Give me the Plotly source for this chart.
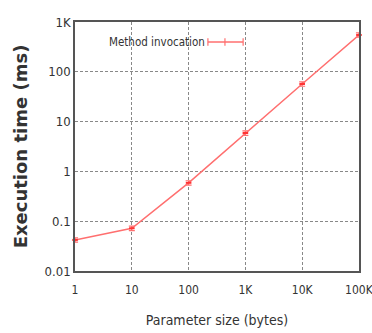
import plotly.graph_objects as go

sizes = [1, 10, 100, 1000, 10000, 100000]
times = [0.042, 0.072, 0.59, 5.9, 57, 550]
series_name = "Method invocation"
x_ticks = ["1", "10", "100", "1K", "10K", "100K"]
y_tickvals = [0.01, 0.1, 1, 10, 100, 1000]
y_ticks = ["0.01", "0.1", "1", "10", "100", "1K"]

narrow = "DejaVu Sans Condensed, Liberation Sans Narrow, sans-serif"
red = "#ff6f6f"

fig = go.Figure()
fig.add_trace(go.Scatter(
    x=sizes, y=times, mode="lines+markers", name=series_name,
    line=dict(color=red, width=1.5),
    marker=dict(color="#ff3333", size=4, symbol="line-ew", line=dict(color="#ff3333", width=2)),
    error_y=dict(type="percent", value=10, color=red, thickness=1.2, width=3),
    showlegend=False, cliponaxis=False,
))

grid = dict(showgrid=True, gridcolor="#888888", griddash="3px,2px", gridwidth=1,
            showline=True, linecolor="#555555", linewidth=1.5, mirror=True,
            ticks="", zeroline=False, automargin=False, ticklabeloverflow="allow")

fig.update_xaxes(type="log", range=[-0.001, 5.001], tickvals=sizes, ticktext=x_ticks,
                 tickfont=dict(family=narrow, size=12, color="#333"), ticklabelstandoff=7,
                 title=dict(text="Parameter size (bytes)", font=dict(family=narrow, size=14, color="#333"), standoff=19),
                 **grid)
fig.update_yaxes(type="log", range=[-2.001, 3.001], tickvals=y_tickvals, ticktext=y_ticks,
                 tickfont=dict(family=narrow, size=13, color="#333"),
                 title=dict(text="Execution time (ms)", font=dict(family="DejaVu Sans, sans-serif", size=18, color="#333", weight="bold"), standoff=12),
                 **grid)

fig.add_annotation(xref="paper", yref="paper", x=0.113, y=0.92, xanchor="left", yanchor="middle",
                   text=series_name, showarrow=False,
                   font=dict(family=narrow, size=11.5, color="#333"))
# legend sample line
fig.add_shape(type="line", xref="paper", yref="paper", x0=0.468, x1=0.592, y0=0.92, y1=0.92,
              line=dict(color=red, width=1.5))
for xp in (0.468, 0.528, 0.592):
    fig.add_shape(type="line", xref="paper", yref="paper", x0=xp, x1=xp, y0=0.905, y1=0.935,
                  line=dict(color=red, width=1.2))

fig.update_layout(width=372, height=333, margin=dict(l=75, r=13, t=22, b=62),
                  paper_bgcolor="white", plot_bgcolor="white")
fig.write_html("out.html", config={"displayModeBar": False},
               post_script="document.body.style.margin='0';document.body.style.overflow='hidden';")
